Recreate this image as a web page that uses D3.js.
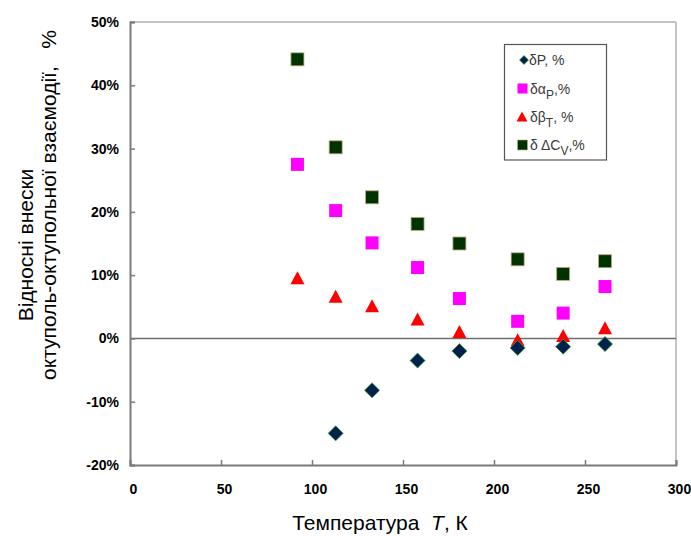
<!DOCTYPE html>
<html>
<head>
<meta charset="utf-8">
<script src="https://cdn.jsdelivr.net/npm/d3@7"></script>
<style>
  body { margin: 0; background: #fff; }
  svg { display: block; }
  .tick text { font-family: "Liberation Sans", Arial, sans-serif; font-weight: bold; font-size: 14px; fill: #000; }
</style>
</head>
<body>
<svg id="chart" width="691" height="536"></svg>
<script>
// Temperatures, K
const temps = [92, 113, 133, 158, 181, 213, 238, 261];
// Relative contributions of octupole-octupole interaction, %
const dP     = [null, -15.0, -8.2, -3.5, -2.0, -1.5, -1.3, -0.9];
const dAlpha = [27.5, 20.2, 15.1, 11.2, 6.3, 2.7, 4.0, 8.2];
const dBeta  = [9.5, 6.6, 5.1, 3.0, 1.0, -0.3, 0.4, 1.6];
const dCv    = [44.1, 30.2, 22.3, 18.1, 15.0, 12.5, 10.2, 12.2];

const xTicks = [0, 50, 100, 150, 200, 250, 300];
const yTicks = [-20, -10, 0, 10, 20, 30, 40, 50];

const svg = d3.select("#chart");
const x = d3.scaleLinear().domain([0, 300]).range([130, 676]);
const y = d3.scaleLinear().domain([-20, 50]).range([465, 22]);

// plot frame: light top/right edges
svg.append("line").attr("x1", x(0)).attr("x2", x(300)).attr("y1", y(50)).attr("y2", y(50))
  .attr("stroke", "#c4c4c4").attr("stroke-width", 2);
svg.append("line").attr("x1", x(300)).attr("x2", x(300)).attr("y1", y(50)).attr("y2", y(-20))
  .attr("stroke", "#c4c4c4").attr("stroke-width", 2);

// zero line
svg.append("line").attr("x1", x(0)).attr("x2", x(300)).attr("y1", y(0)).attr("y2", y(0))
  .attr("stroke", "#6e6e6e").attr("stroke-width", 1.5);

// axes
const xAxis = svg.append("g").attr("transform", `translate(0,${y(-20)})`)
  .call(d3.axisBottom(x).tickValues(xTicks).tickSize(-5).tickPadding(19).tickFormat(d3.format("d")));
const yAxis = svg.append("g").attr("transform", `translate(${x(0)},0)`)
  .call(d3.axisLeft(y).tickValues(yTicks).tickSize(-5).tickPadding(11).tickFormat(d => d + "%"));
[xAxis, yAxis].forEach(g => {
  g.select(".domain").attr("stroke", "#7a7a7a").attr("stroke-width", 2);
  g.selectAll(".tick line").attr("stroke", "#7a7a7a").attr("stroke-width", 1.5);
});
xAxis.selectAll(".tick text").attr("dx", 3);

// markers
const sq = 13;
function squares(vals, fill, stroke) {
  svg.append("g").selectAll("rect").data(temps.map((t, i) => [t, vals[i]]).filter(d => d[1] != null))
    .join("rect")
    .attr("x", d => x(d[0]) - sq / 2).attr("y", d => y(d[1]) - sq / 2)
    .attr("width", sq).attr("height", sq)
    .attr("fill", fill).attr("stroke", stroke).attr("stroke-width", stroke ? 0.8 : 0);
}
squares(dAlpha, "#ff00ff", null);
squares(dCv, "#003300", "#b9ad86");

svg.append("g").selectAll("path").data(temps.map((t, i) => [t, dBeta[i]]))
  .join("path")
  .attr("transform", d => `translate(${x(d[0])},${y(d[1])})`)
  .attr("d", "M0,-7L7,6L-7,6Z")
  .attr("fill", "#ff0000");

svg.append("g").selectAll("path").data(temps.map((t, i) => [t, dP[i]]).filter(d => d[1] != null))
  .join("path")
  .attr("transform", d => `translate(${x(d[0])},${y(d[1])})`)
  .attr("d", "M0,-7.5L7.5,0L0,7.5L-7.5,0Z")
  .attr("fill", "#00204e").attr("stroke", "#3a9a3a").attr("stroke-width", 0.8);

// legend
const lg = svg.append("g");
lg.append("rect").attr("x", 504.5).attr("y", 44.5).attr("width", 102).attr("height", 115.5)
  .attr("fill", "#fff").attr("stroke", "#555").attr("stroke-width", 1.2);
const rows = [
  { y: 60, mark: "diamond", main: "δP, %", sub: null, tail: "" },
  { y: 88.5, mark: "magenta", main: "δα", sub: "P", tail: ",%" },
  { y: 117, mark: "triangle", main: "δβ", sub: "T", tail: ", %" },
  { y: 145, mark: "dark", main: "δ ΔC", sub: "V", tail: ",%" }
];
rows.forEach(r => {
  const mx = 522;
  if (r.mark === "diamond") {
    lg.append("path").attr("transform", `translate(${mx + 2},${r.y})`).attr("d", "M0,-4.5L4.5,0L0,4.5L-4.5,0Z")
      .attr("fill", "#00204e").attr("stroke", "#3a9a3a").attr("stroke-width", 0.6);
  } else if (r.mark === "magenta") {
    lg.append("rect").attr("x", mx - 4.5).attr("y", r.y - 5).attr("width", 10).attr("height", 10).attr("fill", "#ff00ff");
  } else if (r.mark === "triangle") {
    lg.append("path").attr("transform", `translate(${mx},${r.y})`).attr("d", "M0,-5.5L5.5,4.5L-5.5,4.5Z").attr("fill", "#ff0000");
  } else {
    lg.append("rect").attr("x", mx - 4.5).attr("y", r.y - 5).attr("width", 10).attr("height", 10)
      .attr("fill", "#003300").attr("stroke", "#b9ad86").attr("stroke-width", 0.6);
  }
  const t = lg.append("text").attr("x", r.mark === "diamond" ? 529 : 530).attr("y", r.y + 5)
    .attr("font-family", "Liberation Sans, Arial, sans-serif").attr("font-size", 14).attr("fill", "#3a3a3a");
  t.append("tspan").text(r.main);
  if (r.sub) {
    t.append("tspan").attr("dy", 5).attr("font-size", 12).text(r.sub);
    t.append("tspan").attr("dy", -5).text(r.tail);
  }
});

// axis titles
const xt = svg.append("text").attr("x", 380).attr("y", 530).attr("text-anchor", "middle")
  .attr("font-family", "Liberation Sans, Arial, sans-serif").attr("font-size", 21).attr("fill", "#000")
  .attr("xml:space", "preserve");
xt.append("tspan").text("Температура  ");
xt.append("tspan").attr("font-style", "italic").text("T");
xt.append("tspan").text(", К");

svg.append("text").attr("transform", "translate(33,245) rotate(-90)").attr("text-anchor", "middle")
  .attr("font-family", "Liberation Sans, Arial, sans-serif").attr("font-size", 21).attr("fill", "#000")
  .text("Відносні внески");
svg.append("text").attr("transform", "translate(56,205) rotate(-90)").attr("text-anchor", "middle")
  .attr("font-family", "Liberation Sans, Arial, sans-serif").attr("font-size", 21).attr("fill", "#000")
  .attr("xml:space", "preserve")
  .text("октуполь-октупольної взаємодії,   %");
</script>
</body>
</html>
